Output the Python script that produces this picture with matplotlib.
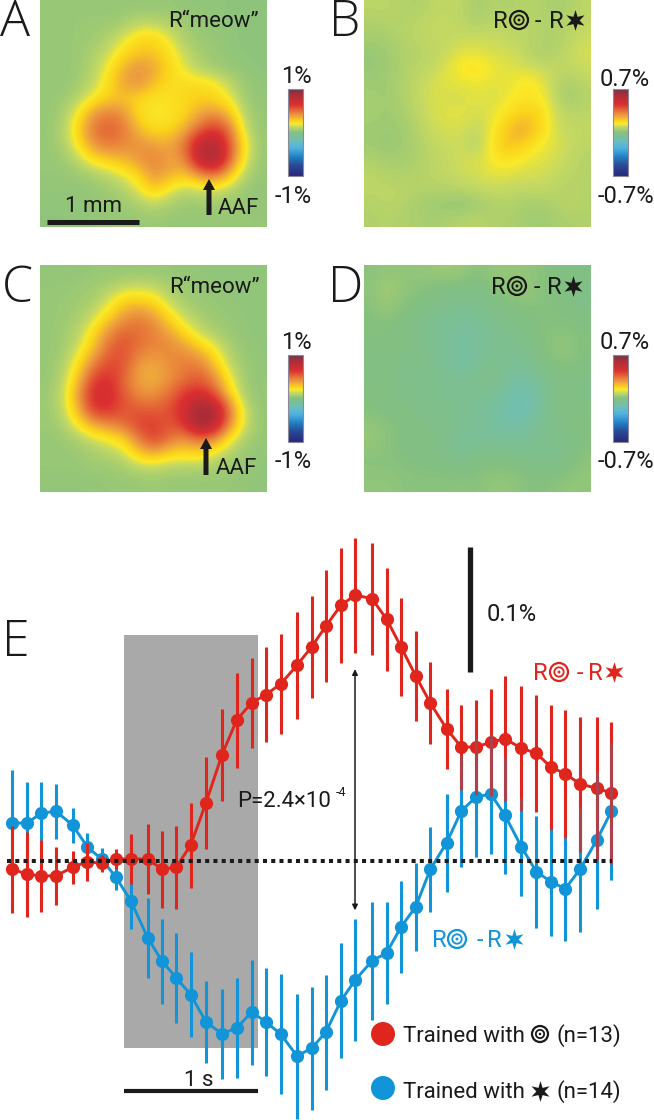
import numpy as np
import matplotlib
matplotlib.use("Agg")
import matplotlib.pyplot as plt
from matplotlib.cm import ScalarMappable
from matplotlib.colors import LinearSegmentedColormap, Normalize
from matplotlib.patches import Circle, FancyArrow
from matplotlib.path import Path

W, H = 654, 1120
RED = "#e0261c"
BLUE = "#1295d8"
BLACK = "#1a1a1a"

plt.rcParams["font.family"] = ["Roboto", "Liberation Sans", "DejaVu Sans"]

# maps, in hundredths of a percent
map_a = [
    [4, 4, 4, 4, 4, 4, 4, 4, 4, 3, 3, 3, 2, 2, 2],
    [4, 4, 5, 5, 5, 7, 11, 11, 9, 6, 4, 3, 2, 2, 2],
    [4, 4, 5, 6, 9, 16, 25, 26, 18, 8, 5, 4, 3, 2, 2],
    [4, 4, 5, 8, 14, 24, 30, 30, 24, 14, 7, 5, 3, 2, 2],
    [4, 4, 5, 10, 20, 34, 42, 38, 26, 18, 10, 6, 4, 3, 2],
    [4, 4, 6, 12, 24, 38, 42, 32, 24, 24, 24, 22, 12, 5, 3],
    [4, 5, 10, 20, 28, 30, 26, 22, 22, 26, 28, 26, 20, 6, 3],
    [4, 7, 20, 40, 46, 42, 24, 20, 22, 24, 36, 42, 32, 10, 4],
    [4, 9, 26, 48, 54, 48, 32, 24, 24, 34, 50, 62, 50, 14, 4],
    [4, 8, 22, 42, 48, 44, 42, 38, 36, 46, 76, 86, 58, 22, 5],
    [4, 5, 12, 24, 30, 34, 40, 46, 38, 42, 78, 92, 56, 20, 4],
    [4, 4, 5, 8, 12, 18, 26, 42, 36, 30, 42, 52, 34, 10, 4],
    [3, 3, 3, 4, 6, 9, 18, 30, 20, 12, 14, 16, 10, 5, 3],
    [3, 3, 3, 3, 4, 5, 8, 12, 8, 5, 5, 6, 5, 4, 3],
    [2, 2, 3, 3, 4, 4, 4, 5, 4, 4, 4, 4, 4, 4, 4],
]
map_b = [
    [8, 8, 7, 6, 8, 9, 8, 5, 7, 6, 7, 7, 5, 6, 8],
    [6, 7, 7, 8, 9, 9, 8, 6, 8, 7, 8, 7, 6, 7, 9],
    [5, 5, 7, 8, 9, 9, 10, 10, 10, 9, 8, 7, 6, 8, 10],
    [3, 4, 6, 7, 8, 10, 12, 12, 11, 11, 9, 6, 6, 9, 11],
    [3, 4, 6, 8, 9, 12, 15, 16, 13, 12, 11, 10, 9, 9, 10],
    [4, 4, 6, 9, 11, 12, 12, 13, 12, 12, 15, 14, 9, 5, 8],
    [5, 4, 6, 9, 11, 11, 11, 12, 11, 13, 15, 15, 10, 4, 7],
    [5, 4, 5, 8, 11, 12, 12, 11, 12, 16, 20, 19, 11, 8, 8],
    [4, 4, 4, 7, 10, 11, 11, 9, 13, 21, 26, 20, 11, 9, 9],
    [4, 3, 4, 6, 9, 10, 10, 7, 15, 23, 20, 14, 12, 10, 8],
    [6, 5, 5, 6, 8, 9, 11, 11, 14, 16, 13, 12, 11, 9, 7],
    [8, 7, 6, 7, 8, 9, 10, 11, 12, 12, 11, 11, 10, 8, 7],
    [8, 8, 8, 7, 7, 7, 8, 9, 10, 9, 9, 9, 8, 7, 7],
    [7, 8, 7, 5, 4, 3, 2, 4, 6, 7, 5, 5, 6, 8, 7],
    [6, 7, 6, 6, 5, 6, 7, 8, 6, 6, 5, 4, 5, 6, 6],
]
map_c = [
    [3, 3, 3, 4, 4, 4, 4, 4, 4, 3, 3, 3, 3, 3, 3],
    [4, 4, 5, 6, 8, 12, 14, 12, 8, 5, 4, 3, 3, 3, 3],
    [4, 5, 6, 8, 16, 28, 30, 26, 14, 7, 5, 4, 3, 3, 3],
    [4, 5, 7, 14, 26, 40, 46, 40, 26, 14, 8, 5, 4, 3, 3],
    [4, 6, 10, 24, 42, 52, 50, 46, 38, 26, 14, 8, 5, 3, 3],
    [4, 6, 14, 30, 50, 58, 48, 44, 44, 40, 30, 20, 8, 4, 3],
    [4, 8, 22, 44, 58, 56, 40, 36, 42, 46, 46, 30, 12, 5, 3],
    [4, 10, 30, 58, 66, 52, 36, 34, 40, 48, 54, 44, 20, 6, 3],
    [5, 12, 38, 68, 70, 54, 42, 40, 48, 62, 66, 56, 28, 7, 3],
    [5, 12, 34, 64, 66, 56, 54, 52, 56, 68, 92, 86, 50, 14, 4],
    [5, 8, 22, 38, 44, 50, 60, 62, 54, 64, 94, 84, 46, 16, 4],
    [4, 5, 8, 14, 20, 26, 46, 62, 50, 40, 50, 44, 22, 8, 4],
    [4, 4, 5, 7, 9, 14, 28, 34, 26, 24, 26, 16, 8, 5, 3],
    [4, 4, 4, 5, 5, 6, 9, 10, 8, 7, 7, 6, 5, 4, 3],
    [3, 3, 3, 3, 4, 4, 4, 5, 4, 4, 4, 4, 4, 3, 3],
]
map_d = [
    [1, 2, 2, 2, 3, 4, 3, 1, 2, 3, 2, 1, 0, -1, -1],
    [1, 5, 2, 1, 0, -1, -1, -2, 1, 2, 3, 1, 0, -1, -2],
    [1, 4, 1, 0, -1, -2, -3, -3, -1, 0, 1, 1, 0, -1, -2],
    [0, 1, 0, -2, -4, -5, -6, -5, -3, -2, -1, 0, 0, 0, -1],
    [0, 0, -1, -2, -5, -5, -7, -6, -4, -3, -2, 0, 1, 1, 0],
    [0, 0, -1, -2, -3, -6, -8, -6, -4, -4, -3, -1, 2, 2, 0],
    [-1, -1, -2, -2, -3, -6, -8, -6, -3, -5, -5, -2, 0, 1, -1],
    [-1, -1, -2, -3, -3, -4, -5, -2, -2, -6, -8, -5, -2, -1, -2],
    [0, -1, -2, -3, -3, -4, -4, -4, -5, -8, -12, -7, -2, -1, -2],
    [0, -1, -1, -2, -3, -3, -4, -5, -7, -10, -13, -7, -2, -1, -1],
    [2, 1, 0, -1, -2, -2, -4, -5, -7, -10, -9, -5, -2, -1, 0],
    [3, 1, -1, -1, -1, -3, -6, -6, -5, -5, -5, -3, -3, -2, 0],
    [1, 1, 0, -1, -1, -3, -4, -2, -2, -3, -3, -4, -4, -2, 1],
    [1, 1, 1, 0, 0, 0, -1, 0, 1, 1, 0, -1, -1, 0, 2],
    [2, 2, 1, 1, 1, 1, 1, 1, 2, 2, 1, 0, 1, 2, 2],
]

# time course, seconds from stimulus onset and percent signal
t = [-0.834, -0.726, -0.617, -0.507, -0.383, -0.274, -0.166, -0.060, 0.052, 0.177,
     0.284, 0.390, 0.498, 0.612, 0.731, 0.841, 0.953, 1.057, 1.169, 1.291,
     1.401, 1.507, 1.619, 1.726, 1.851, 1.960, 2.067, 2.177, 2.286, 2.408,
     2.517, 2.627, 2.737, 2.843, 2.965, 3.077, 3.187, 3.293, 3.403, 3.528, 3.637]
red_mean = [-0.0066, -0.0104, -0.012, -0.0118, -0.005, -0.0006, -0.0018, 0.0016, 0.0016, 0.0016,
            -0.0066, -0.005, 0.0128, 0.0466, 0.0848, 0.1128, 0.1266, 0.133, 0.1416, 0.1566,
            0.1714, 0.188, 0.2046, 0.2128, 0.2098, 0.1934, 0.1714, 0.148, 0.1264, 0.1056,
            0.0912, 0.0912, 0.095, 0.0978, 0.0902, 0.0862, 0.075, 0.0698, 0.0616, 0.0582, 0.0544]
red_err = [0.035, 0.034, 0.029, 0.023, 0.013, 0.015, 0.007, 0.008, 0.020, 0.028,
           0.031, 0.033, 0.034, 0.037, 0.037, 0.038, 0.036, 0.038, 0.040, 0.043,
           0.041, 0.045, 0.046, 0.046, 0.045, 0.041, 0.039, 0.036, 0.033, 0.032,
           0.034, 0.038, 0.043, 0.050, 0.050, 0.047, 0.050, 0.051, 0.054, 0.057, 0.057]
blue_mean = [0.0306, 0.0302, 0.0382, 0.0398, 0.0286, 0.0114, 0.0014, -0.013, -0.032, -0.0614,
             -0.0802, -0.0934, -0.107, -0.1288, -0.1382, -0.1336, -0.1208, -0.1286, -0.1384, -0.156,
             -0.1498, -0.1368, -0.1118, -0.095, -0.08, -0.0734, -0.0528, -0.0366, -0.0066, 0.0146,
             0.04, 0.0512, 0.0536, 0.0366, 0.0114, -0.0086, -0.0166, -0.0222, -0.0066, 0.0168, 0.0398]
blue_err = [0.042, 0.033, 0.025, 0.022, 0.014, 0.011, 0.009, 0.010, 0.022, 0.032,
            0.034, 0.036, 0.034, 0.033, 0.036, 0.040, 0.042, 0.043, 0.048, 0.050,
            0.049, 0.046, 0.046, 0.049, 0.047, 0.041, 0.037, 0.035, 0.034, 0.039,
            0.045, 0.048, 0.048, 0.047, 0.039, 0.045, 0.043, 0.042, 0.050, 0.055, 0.055]

cmap = LinearSegmentedColormap.from_list("wash", [
    (0.00, "#28267c"), (0.12, "#2a4a96"), (0.22, "#2080c4"), (0.32, "#50b2e0"),
    (0.42, "#72bfb0"), (0.50, "#84c080"), (0.57, "#c8da60"), (0.60, "#fae928"),
    (0.635, "#fbd41a"), (0.69, "#eea23e"), (0.82, "#dc3030"), (0.94, "#a82c38"),
    (1.00, "#663850"),
])

fig = plt.figure(figsize=(W / 100, H / 100), dpi=100, facecolor="white")


def px_axes(x0, y0, x1, y1):
    return fig.add_axes([x0 / W, 1 - y1 / H, (x1 - x0) / W, (y1 - y0) / H])


def draw_map(values, x0, y0, scale):
    ax = px_axes(x0, y0, x0 + 227, y0 + 227)
    ax.imshow(np.array(values), cmap=cmap, vmin=-scale, vmax=scale, aspect="auto",
              interpolation="bicubic", interpolation_stage="data")
    ax.axis("off")


def draw_bar(x0, y0):
    cax = px_axes(x0, y0, x0 + 15, y0 + 87)
    fig.colorbar(ScalarMappable(Normalize(-1, 1), cmap), cax=cax, ticks=[])
    cax.spines["outline"].set_edgecolor("#8a8a9a")
    cax.spines["outline"].set_linewidth(0.8)


draw_map(map_a, 40, 0, 100)
draw_map(map_b, 364, 0, 70)
draw_map(map_c, 40, 265, 100)
draw_map(map_d, 364, 265, 70)
for bx, by in [(288, 89), (613, 89), (288, 355), (613, 355)]:
    draw_bar(bx, by)

# panel E in its own units: 134 px per second, 1250 px per percent
ax = px_axes(0, 530, W, H)
ax.set_xlim(-0.925, 3.955)
ax.set_ylim(-0.2072, 0.2648)
ax.axis("off")
ax.fill_between([0, 1], -0.1496, 0.1808, color="#a9a9a9", lw=0, zorder=1)
ax.errorbar(t, blue_mean, yerr=blue_err, color=BLUE, lw=2.1, elinewidth=2.2, marker="o", ms=9.5,
            mew=0, capsize=0, zorder=3)
ax.errorbar(t, red_mean, yerr=red_err, color=RED, lw=2.1, elinewidth=2.2, marker="o", ms=9.5,
            mew=0, capsize=0, zorder=4)
# blue bars show faintly through the red ones on the right
ax.vlines(t[30:], np.array(blue_mean[30:]) - blue_err[30:], np.array(blue_mean[30:]) + blue_err[30:],
          color=BLUE, lw=2.2, alpha=0.25, zorder=5)
ax.plot([-0.87, 3.64], [0, 0], color=BLACK, lw=2.9, dashes=(1, 1.05), zorder=6)
ax.plot([0, 1], [-0.184, -0.184], color=BLACK, lw=3, solid_capstyle="butt")
ax.plot([2.582, 2.582], [0.1512, 0.2512], color=BLACK, lw=3.8, solid_capstyle="butt")
ax.annotate("", xy=(1.724, 0.1535), xytext=(1.724, -0.0395),
            arrowprops=dict(arrowstyle="<|-|>", color=BLACK, lw=1.1, mutation_scale=8,
                            shrinkA=0, shrinkB=0))

# labels and symbols, placed in picture pixels
ov = px_axes(0, 0, W, H)
ov.set_xlim(0, W)
ov.set_ylim(H, 0)
ov.axis("off")
ov.patch.set_alpha(0)


def label(x, y, s, size=16, color=BLACK, ha="left", **kw):
    ov.text(x, y, s, fontsize=size, color=color, ha=ha, va="baseline", **kw)


def target(x, y, r=9, color=BLACK):
    ov.add_patch(Circle((x, y), r, fill=False, ec=color, lw=1.6))
    ov.add_patch(Circle((x, y), r * 0.52, fill=False, ec=color, lw=1.3))
    ov.add_patch(Circle((x, y), r * 0.16, fc=color, ec="none"))


def star(x, y, size=15, color=BLACK):
    ov.plot([x], [y], marker=Path.unit_regular_star(6, 0.4), ms=size, color=color, mew=0)


def diff_label(xr, yb, xt, xd, xr2, xs, color=BLACK):
    label(xr, yb, "R", size=17, color=color)
    target(xt, yb - 8, color=color)
    label(xd, yb, "-", size=17, color=color)
    label(xr2, yb, "R", size=17, color=color)
    star(xs, yb - 8, color=color)


for letter, lx, ly in [("A", 0, 36), ("B", 329, 36), ("C", 2, 302), ("D", 328, 302), ("E", 2, 656)]:
    label(lx, ly, letter, size=36, family="Open Sans", weight="light")

label(168, 27, "R\u201cmeow\u201d")
label(169, 293, "R\u201cmeow\u201d")
label(218, 214, "AAF")
label(216, 474, "AAF")
ov.add_patch(FancyArrow(209, 215, 0, -36, width=5, head_width=12, head_length=11,
                        length_includes_head=True, color=BLACK, lw=0))
ov.add_patch(FancyArrow(206, 475, 0, -37, width=5, head_width=12, head_length=11,
                        length_includes_head=True, color=BLACK, lw=0))
label(65, 212, "1 mm")
ov.plot([47, 139], [222, 222], color=BLACK, lw=3.6, solid_capstyle="butt")

label(312, 83, "1%", size=17, ha="right")
label(312, 203, "-1%", size=17, ha="right")
label(312, 349, "1%", size=17, ha="right")
label(312, 468, "-1%", size=17, ha="right")
label(650, 86, "0.7%", size=17, ha="right")
label(654, 203, "-0.7%", size=17, ha="right")
label(650, 349, "0.7%", size=17, ha="right")
label(654, 468, "-0.7%", size=17, ha="right")

diff_label(493, 28, 519, 535, 549, 575)
diff_label(491, 294, 517, 534, 547, 573)
diff_label(533, 680, 559, 577, 588, 614, color=RED)
diff_label(432, 947, 457, 477, 487, 514, color=BLUE)

label(487, 621, "0.1%", size=17)
label(237, 807, "P=2.4\u00d710")
label(336, 796, "-4", size=9)
label(184, 1086, "1 s")

ov.add_patch(Circle((383, 1034), 12, fc=RED, ec="none"))
ov.add_patch(Circle((383, 1088), 12, fc=BLUE, ec="none"))
label(403, 1042, "Trained with")
label(557, 1042, "(n=13)")
target(540, 1034, r=8)
label(403, 1098, "Trained with")
label(557, 1098, "(n=14)")
star(540, 1091)

fig.savefig("out.png", dpi=100)
